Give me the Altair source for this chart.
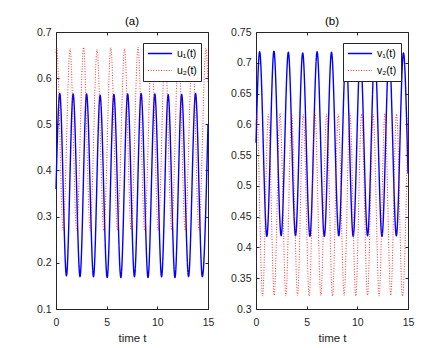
import altair as alt
import pandas as pd

FONT = "Liberation Sans"
INK = "#262626"

# ---- data ----
x_ticks = [0, 5, 10, 15]

# panel (a)
u1_t = [0.00, 0.37, 1.03, 1.69, 2.37, 3.02, 3.70, 4.35, 5.05, 5.71, 6.40, 7.07,
        7.74, 8.40, 9.08, 9.75, 10.42, 11.07, 11.74, 12.40, 13.08, 13.77, 14.44, 15.00]
u1_v = [0.36, 0.567, 0.172, 0.566, 0.170, 0.566, 0.170, 0.563, 0.168, 0.565, 0.168, 0.566,
        0.170, 0.567, 0.168, 0.566, 0.170, 0.564, 0.168, 0.565, 0.170, 0.567, 0.170, 0.50]
u2_t = [0.00, 0.07, 0.70, 1.39, 2.04, 2.72, 3.37, 4.05, 4.72, 5.41, 6.07, 6.77, 7.41,
        8.10, 8.75, 9.45, 10.09, 10.77, 11.41, 12.10, 12.75, 13.47, 14.11, 14.80, 15.00]
u2_v = [0.655, 0.666, 0.271, 0.664, 0.270, 0.667, 0.270, 0.662, 0.269, 0.666, 0.270, 0.664, 0.271,
        0.667, 0.270, 0.663, 0.270, 0.665, 0.271, 0.664, 0.270, 0.666, 0.271, 0.665, 0.59]
a_yticks = [0.1, 0.2, 0.3, 0.4, 0.5, 0.6, 0.7]

# panel (b)
v1_t = [0.00, 0.36, 1.07, 1.77, 2.48, 3.19, 3.90, 4.61, 5.32, 6.03, 6.74, 7.45,
        8.17, 8.88, 9.59, 10.30, 11.01, 11.72, 12.43, 13.14, 13.85, 14.55, 15.00]
v1_v = [0.57, 0.718, 0.418, 0.719, 0.419, 0.717, 0.419, 0.716, 0.418, 0.718, 0.418, 0.717,
        0.419, 0.718, 0.418, 0.716, 0.419, 0.717, 0.418, 0.718, 0.419, 0.716, 0.52]
v2_t = [0.00, 0.07, 0.65, 1.22, 1.80, 2.37, 2.95, 3.52, 4.10, 4.67, 5.25, 5.82, 6.40, 6.97,
        7.55, 8.12, 8.70, 9.27, 9.85, 10.42, 11.00, 11.57, 12.15, 12.72, 13.30, 13.87, 14.45, 15.00]
v2_v = [0.60, 0.617, 0.321, 0.616, 0.322, 0.618, 0.321, 0.617, 0.322, 0.616, 0.321, 0.618, 0.322, 0.617,
        0.321, 0.616, 0.322, 0.618, 0.321, 0.617, 0.322, 0.616, 0.321, 0.618, 0.322, 0.617, 0.321, 0.612]
b_yticks = [0.3, 0.35, 0.4, 0.45, 0.5, 0.55, 0.6, 0.65, 0.7, 0.75]

PAD = "\u00a0\u00a0"


def panel(t1, v1, n1, t2, v2, n2, ydom, yticks, title):
    n1, n2 = n1 + PAD, n2 + PAD
    df = pd.DataFrame({"t": t1 + t2, "v": v1 + v2,
                       "series": [n1] * len(t1) + [n2] * len(t2)})
    xs = alt.Scale(domain=[0, 15], nice=False, zero=False)
    ys = alt.Scale(domain=ydom, nice=False, zero=False)
    leg = alt.Legend(title=None, orient="none", legendX=87, legendY=11, padding=4,
                     fillColor="white", strokeColor=INK, symbolType="stroke",
                     symbolSize=576, clipHeight=13, labelFont=FONT, labelFontSize=10.5,
                     labelColor="black", labelOffset=4, rowPadding=4)
    dom = [n1, n2]
    lines = alt.Chart(df).mark_line(interpolate="monotone").encode(
        x=alt.X("t:Q", scale=xs,
                axis=alt.Axis(values=x_ticks, title="time t", orient="bottom",
                              offset=-3, tickSize=3, labelPadding=8, titlePadding=5,
                              domain=False, grid=False, labelFlush=False)),
        y=alt.Y("v:Q", scale=ys,
                axis=alt.Axis(values=yticks, title=None, orient="left",
                              offset=-3, tickSize=3, labelPadding=5,
                              domain=False, grid=False, labelFlush=False,
                              labelExpr="'' + datum.value")),
        color=alt.Color("series:N", scale=alt.Scale(domain=dom, range=["#0000FF", "#FF0000"]), legend=leg),
        strokeDash=alt.StrokeDash("series:N", scale=alt.Scale(domain=dom, range=[[1, 0], [1, 1.6]]), legend=leg),
        strokeWidth=alt.StrokeWidth("series:N", scale=alt.Scale(domain=dom, range=[1.4, 0.8]), legend=leg),
        order="series:N",
    )
    frame = alt.Chart(pd.DataFrame({"t": [0.0], "v": [ydom[0]]})).mark_point(opacity=0).encode(
        x=alt.X("t:Q", scale=xs,
                axis=alt.Axis(values=x_ticks, orient="top", labels=False, title=None,
                              offset=-3, tickSize=3, domain=False, grid=False)),
        y=alt.Y("v:Q", scale=ys,
                axis=alt.Axis(values=yticks, orient="right", labels=False, title=None,
                              offset=-3, tickSize=3, domain=False, grid=False)),
    )
    return alt.layer(lines, frame).resolve_axis(x="independent", y="independent").properties(
        width=152, height=277,
        title=alt.TitleParams(title, font=FONT, fontSize=11.5, fontWeight="normal",
                              color="black", offset=0))


pa = panel(u1_t, u1_v, "u₁(t)", u2_t, u2_v, "u₂(t)", [0.1, 0.7], a_yticks, "(a)")
pb = panel(v1_t, v1_v, "v₁(t)", v2_t, v2_v, "v₂(t)", [0.3, 0.75], b_yticks, "(b)")

chart = alt.hconcat(pa, pb, spacing=48, bounds="flush").resolve_scale(
    color="independent", strokeDash="independent", strokeWidth="independent"
).resolve_legend(
    color="independent", strokeDash="independent", strokeWidth="independent"
).configure_view(
    stroke=INK, strokeWidth=1
).configure_axis(
    labelFont=FONT, labelFontSize=10.5, labelColor=INK,
    titleFont=FONT, titleFontSize=11.5, titleColor=INK, titleFontWeight="normal",
    tickColor=INK, tickWidth=1
).properties(
    padding={"left": 27, "top": 7, "right": 5, "bottom": 5},
    background="white"
)

chart.save("out.html", embed_options={"renderer": "svg", "actions": False})
